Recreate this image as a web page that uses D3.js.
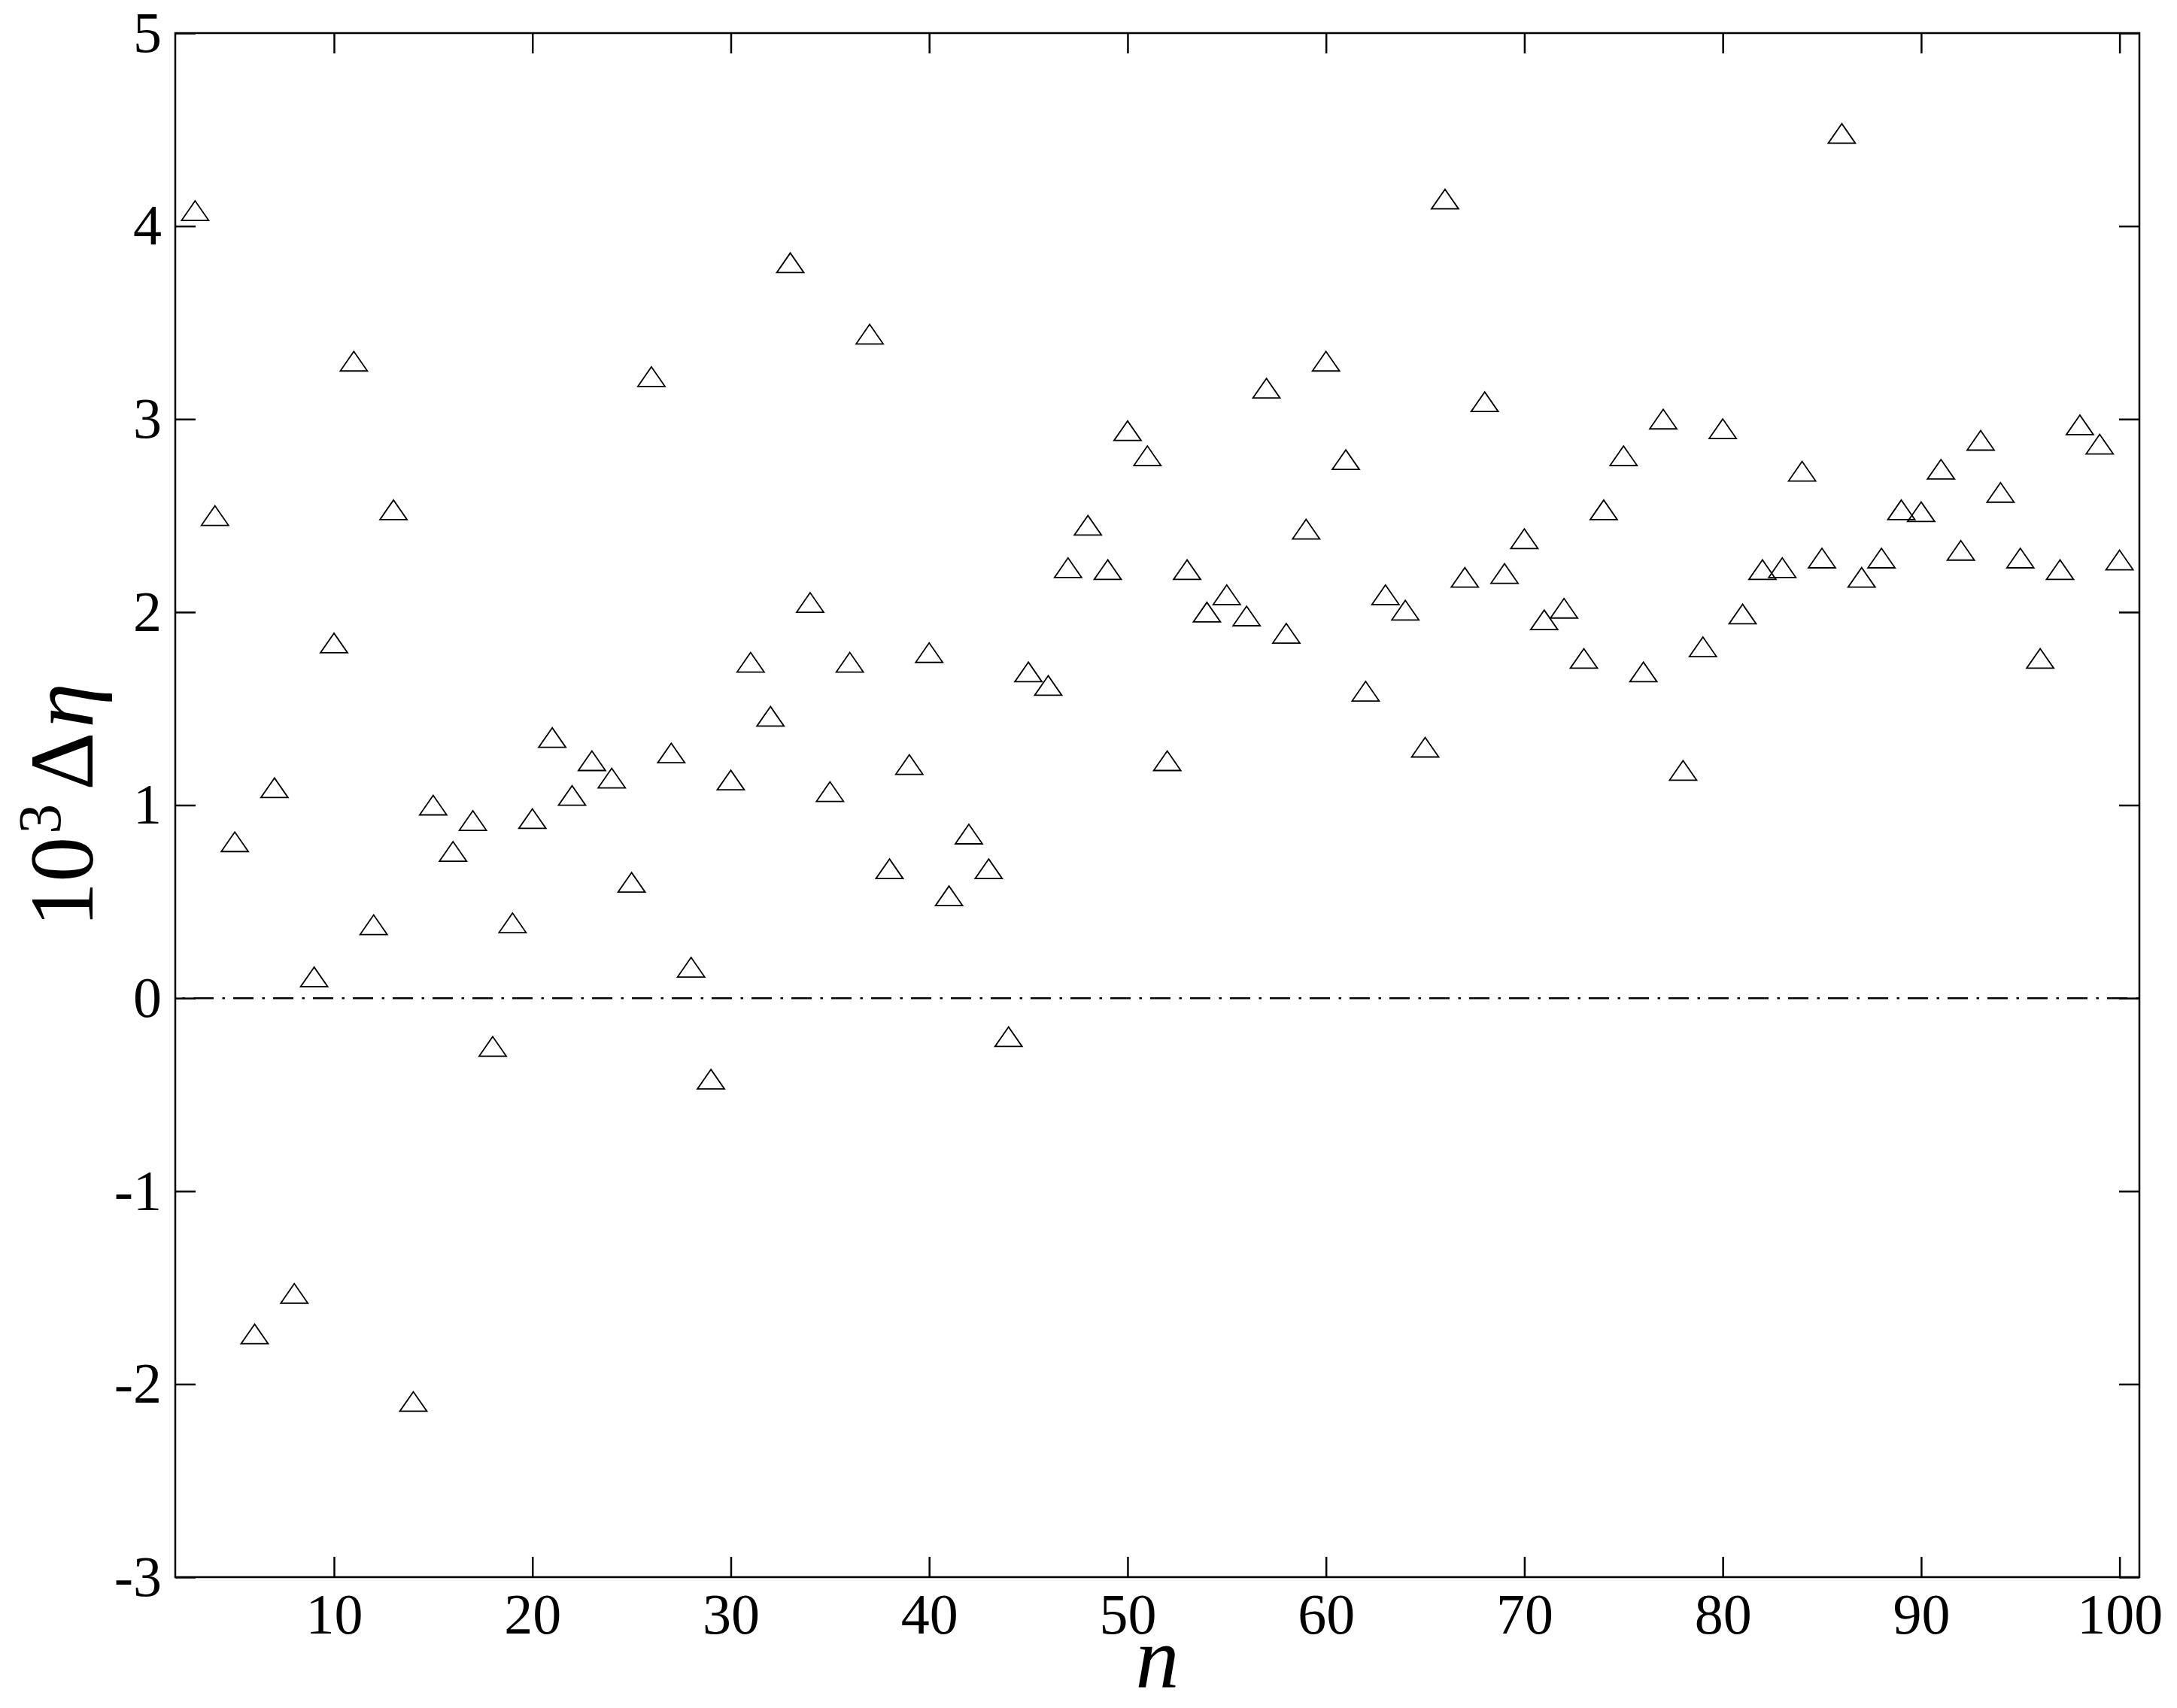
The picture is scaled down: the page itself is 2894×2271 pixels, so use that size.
<!DOCTYPE html>
<html>
<head>
<meta charset="utf-8">
<script src="https://cdn.jsdelivr.net/npm/d3@7"></script>
<style>
  html, body { margin: 0; padding: 0; background: #fff; }
  svg { display: block; }
  text { font-family: "Liberation Serif", "Times New Roman", serif; fill: #000; }
</style>
</head>
<body>
<svg id="chart" width="2894" height="2271"></svg>
<script>
// ---- data ----
const nValues = d3.range(3, 101);
const deltaEta = [
  4.08, 2.50, 0.81, -1.74, 1.09, -1.53, 0.11, 1.84, 3.30, 0.38,
  2.53, -2.09, 1.00, 0.76, 0.92, -0.25, 0.39, 0.93, 1.35, 1.05,
  1.23, 1.14, 0.60, 3.22, 1.27, 0.16, -0.42, 1.13, 1.74, 1.46,
  3.81, 2.05, 1.07, 1.74, 3.44, 0.67, 1.21, 1.79, 0.53, 0.85,
  0.67, -0.20, 1.69, 1.62, 2.23, 2.45, 2.22, 2.94, 2.81, 1.23,
  2.22, 2.00, 2.09, 1.98, 3.16, 1.89, 2.43, 3.30, 2.79, 1.59,
  2.09, 2.01, 1.30, 4.14, 2.18, 3.09, 2.20, 2.38, 1.96, 2.02,
  1.76, 2.53, 2.81, 1.69, 3.00, 1.18, 1.82, 2.95, 1.99, 2.22,
  2.23, 2.73, 2.28, 4.48, 2.18, 2.28, 2.53, 2.52, 2.74, 2.32,
  2.89, 2.62, 2.28, 1.76, 2.22, 2.97, 2.87, 2.27
];
const xTicks = [10, 20, 30, 40, 50, 60, 70, 80, 90, 100];
const yTicks = [-3, -2, -1, 0, 1, 2, 3, 4, 5];
const xDomain = [2, 101];
const yDomain = [-3, 5];
const points = nValues.map((n, i) => ({ n: n, v: deltaEta[i] }));

// ---- layout ----
const L = 233, R = 2844, T = 44, B = 2097;
const svg = d3.select("#chart");
const x = d3.scaleLinear().domain(xDomain).range([L, R]);
const y = d3.scaleLinear().domain(yDomain).range([B, T]);
const tickLen = 27;

// zero reference line (dash-dot)
svg.append("line")
  .attr("x1", x(xDomain[0])).attr("x2", x(xDomain[1]))
  .attr("y1", y(0)).attr("y2", y(0))
  .attr("stroke", "#000").attr("stroke-width", 2.5)
  .attr("stroke-dasharray", "27 11.5 3.5 11")
  .attr("stroke-dashoffset", 29);

// axes
function styleAxis(g, fs) {
  g.select(".domain").remove();
  g.selectAll(".tick line").attr("stroke", "#000").attr("stroke-width", 2.5);
  g.selectAll(".tick text").attr("font-size", fs).attr("fill", "#000")
    .attr("font-family", "'Liberation Serif', 'Times New Roman', serif");
}
const fmt = d => String(d);
svg.append("g").attr("transform", `translate(0,${B})`)
  .call(d3.axisBottom(x).tickValues(xTicks).tickFormat(fmt).tickSizeInner(-tickLen).tickSizeOuter(0).tickPadding(21))
  .call(g => styleAxis(g, 76));
svg.append("g").attr("transform", `translate(0,${T})`)
  .call(d3.axisTop(x).tickValues(xTicks).tickFormat("").tickSizeInner(-tickLen).tickSizeOuter(0))
  .call(g => styleAxis(g, 76));
svg.append("g").attr("transform", `translate(${L},0)`)
  .call(d3.axisLeft(y).tickValues(yTicks).tickFormat(fmt).tickSizeInner(-tickLen).tickSizeOuter(0).tickPadding(18))
  .call(g => styleAxis(g, 76));
svg.append("g").attr("transform", `translate(${R},0)`)
  .call(d3.axisRight(y).tickValues(yTicks).tickFormat("").tickSizeInner(-tickLen).tickSizeOuter(0))
  .call(g => styleAxis(g, 76));

// frame
svg.append("rect")
  .attr("x", L).attr("y", T).attr("width", R - L).attr("height", B - T)
  .attr("fill", "none").attr("stroke", "#000").attr("stroke-width", 2.5);

// triangle markers
const tw = 18, th = 13;
function triPath() {
  const p = d3.path();
  p.moveTo(0, -th); p.lineTo(-tw, th); p.lineTo(tw, th); p.closePath();
  return p.toString();
}
svg.append("g").selectAll("path").data(points).join("path")
  .attr("d", triPath())
  .attr("transform", d => `translate(${x(d.n)},${y(d.v)})`)
  .attr("fill", "none").attr("stroke", "#000").attr("stroke-width", 1.8);

// axis labels
svg.append("text")
  .attr("x", (L + R) / 2).attr("y", 2243)
  .attr("text-anchor", "middle").attr("font-size", 116)
  .attr("font-style", "italic").text("n");

const yl = svg.append("text")
  .attr("transform", `translate(123,${(T + B) / 2}) rotate(-90)`)
  .attr("text-anchor", "middle").attr("font-size", 120);
yl.append("tspan").text("10");
yl.append("tspan").attr("font-size", 80).attr("dy", -43).attr("dx", 4).text("3");
yl.append("tspan").attr("dy", 43).attr("dx", 18).text("\u0394");
yl.append("tspan").attr("font-style", "italic").attr("dx", 6).text("\u03B7");
</script>
</body>
</html>
